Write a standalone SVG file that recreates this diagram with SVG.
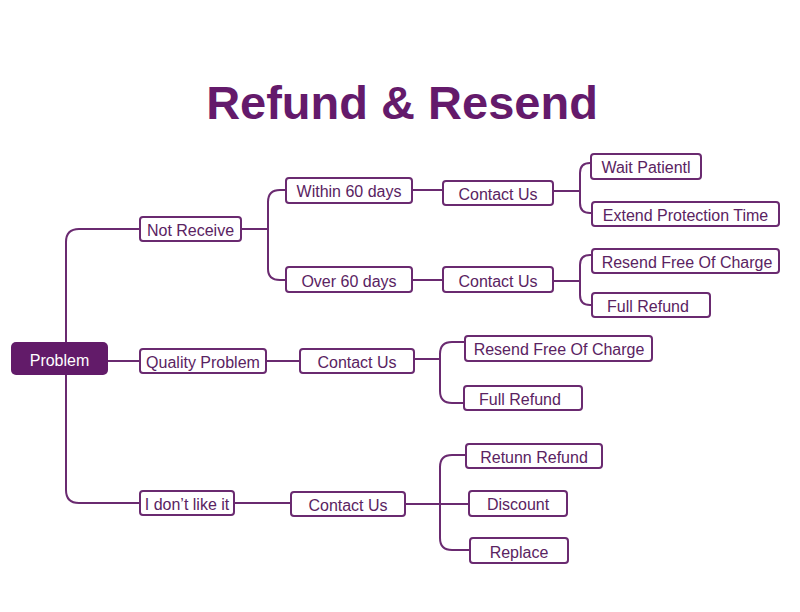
<svg xmlns="http://www.w3.org/2000/svg" width="800" height="612" viewBox="0 0 800 612">
<style>
.box{fill:#fff;stroke:#6a2a70;stroke-width:2}
.t{font-family:"Liberation Sans",Arial,sans-serif;font-size:16px;fill:#5a2362;text-anchor:middle}
.c{fill:none;stroke:#6a2a70;stroke-width:2}
</style>
<rect width="800" height="612" fill="#fff"/>
<text x="402" y="119" font-family="Liberation Sans,Arial,sans-serif" font-weight="bold" font-size="47" fill="#641a6b" text-anchor="middle">Refund &amp; Resend</text>
<g id="connectors">
<path class="c" d="M140,229 H79 Q66,229 66,242 V490 Q66,503 79,503 H140"/>
<path class="c" d="M108,361 H140"/>
<path class="c" d="M241,229 H268"/>
<path class="c" d="M286,190 H280 Q268,190 268,202 V269 Q268,280 280,280 H286"/>
<path class="c" d="M412,190 H443"/>
<path class="c" d="M412,280 H443"/>
<path class="c" d="M553,191 H580"/>
<path class="c" d="M591,163 H590 Q580,163 580,173 V203 Q580,213 590,213 H592"/>
<path class="c" d="M553,281 H580"/>
<path class="c" d="M592,255 H590 Q580,255 580,265 V295 Q580,305 590,305 H592"/>
<path class="c" d="M266,361 H300"/>
<path class="c" d="M414,359 H440"/>
<path class="c" d="M465,342 H452 Q440,342 440,354 V391 Q440,403 452,403 H464"/>
<path class="c" d="M234,503 H291"/>
<path class="c" d="M405,504 H469"/>
<path class="c" d="M466,455 H452 Q440,455 440,467 V538 Q440,550 452,550 H470"/>
</g>
<g id="problem"><rect x="11" y="342" width="97" height="33" rx="5" fill="#621b69"/><text class="t" x="59.5" y="365.5" style="fill:#fff">Problem</text></g>
<g id="not-receive"><rect class="box" x="140" y="217" width="101" height="24" rx="3"/><text class="t" x="190.5" y="236">Not Receive</text></g>
<g id="quality-problem"><rect class="box" x="140" y="349" width="126" height="24" rx="3"/><text class="t" x="203" y="368">Quality Problem</text></g>
<g id="dont-like"><rect class="box" x="140" y="491" width="94" height="24" rx="3"/><text class="t" x="187" y="510">I don’t like it</text></g>
<g id="within-60"><rect class="box" x="286" y="178" width="126" height="25" rx="3"/><text class="t" x="349" y="197">Within 60 days</text></g>
<g id="over-60"><rect class="box" x="286" y="267" width="126" height="25" rx="3"/><text class="t" x="349" y="286.5">Over 60 days</text></g>
<g id="contact-1"><rect class="box" x="443" y="181" width="110" height="24" rx="3"/><text class="t" x="498" y="200">Contact Us</text></g>
<g id="contact-2"><rect class="box" x="443" y="267" width="110" height="25" rx="3"/><text class="t" x="498" y="286.5">Contact Us</text></g>
<g id="wait"><rect class="box" x="591" y="154" width="110" height="25" rx="3"/><text class="t" x="646" y="173">Wait Patientl</text></g>
<g id="extend"><rect class="box" x="592" y="202" width="187" height="24" rx="3"/><text class="t" x="685.5" y="221">Extend Protection Time</text></g>
<g id="resend-1"><rect class="box" x="592" y="249" width="187" height="24" rx="3"/><text class="t" x="687" y="268">Resend Free Of Charge</text></g>
<g id="full-refund-1"><rect class="box" x="592" y="293" width="118" height="24" rx="3"/><text class="t" x="648" y="312">Full Refund</text></g>
<g id="contact-3"><rect class="box" x="300" y="349" width="114" height="24" rx="3"/><text class="t" x="357" y="368">Contact Us</text></g>
<g id="resend-2"><rect class="box" x="465" y="336" width="187" height="25" rx="3"/><text class="t" x="559" y="355">Resend Free Of Charge</text></g>
<g id="full-refund-2"><rect class="box" x="464" y="386" width="118" height="24" rx="3"/><text class="t" x="520" y="405">Full Refund</text></g>
<g id="contact-4"><rect class="box" x="291" y="492" width="114" height="24" rx="3"/><text class="t" x="348" y="511">Contact Us</text></g>
<g id="return-refund"><rect class="box" x="466" y="444" width="136" height="24" rx="3"/><text class="t" x="534" y="463">Retunn Refund</text></g>
<g id="discount"><rect class="box" x="469" y="491" width="98" height="25" rx="3"/><text class="t" x="518" y="510">Discount</text></g>
<g id="replace"><rect class="box" x="470" y="538" width="98" height="25" rx="3"/><text class="t" x="519" y="557.5">Replace</text></g>
</svg>
